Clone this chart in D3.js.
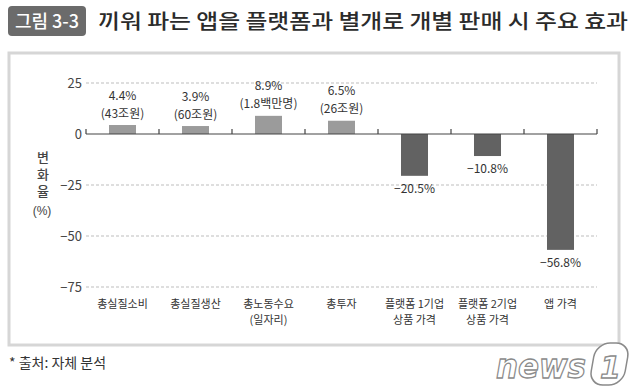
<!DOCTYPE html>
<html>
<head>
<meta charset="utf-8">
<script src="https://cdn.jsdelivr.net/npm/d3@7"></script>
<style>
  body { margin: 0; background: #fff; }
  text { font-family: "Noto Sans CJK KR", "Noto Sans", sans-serif; }
</style>
</head>
<body>
<div id="chart"></div>
<script>
// data
const categories = [
  ["총실질소비"],
  ["총실질생산"],
  ["총노동수요", "(일자리)"],
  ["총투자"],
  ["플랫폼 1기업", "상품 가격"],
  ["플랫폼 2기업", "상품 가격"],
  ["앱 가격"]
];
const values = [4.4, 3.9, 8.9, 6.5, -20.5, -10.8, -56.8];
const notes = ["(43조원)", "(60조원)", "(1.8백만명)", "(26조원)", "", "", ""];
const yTicks = [25, 0, -25, -50, -75];

const data = values.map((v, i) => ({ id: i, label: categories[i], value: v, note: notes[i] }));

const W = 640, H = 388;
const svg = d3.select('#chart').append('svg').attr('width', W).attr('height', H);

// title badge + title
svg.append('rect').attr('x', 8).attr('y', 6).attr('width', 78).attr('height', 30)
   .attr('rx', 4).attr('fill', '#6b6b6b');
svg.append('text').attr('x', 47).attr('y', 28).attr('text-anchor', 'middle')
   .style('font-size', '18px').style('font-weight', 500).style('fill', '#fff')
   .text('그림 3-3');
svg.append('text').attr('x', 98).attr('y', 29)
   .style('font-size', '20px').style('font-weight', 500).style('fill', '#2b2b2b')
   .attr('textLength', 530).attr('lengthAdjust', 'spacingAndGlyphs')
   .text('끼워 파는 앱을 플랫폼과 별개로 개별 판매 시 주요 효과');

// frame
svg.append('rect').attr('x', 9).attr('y', 53).attr('width', 610).attr('height', 292)
   .attr('fill', '#fff').attr('stroke', '#d6d6d6').attr('stroke-width', 3);

//scales
const x = d3.scaleBand().domain(data.map(d => d.id)).range([86, 597])
   .paddingInner(0.63).paddingOuter(0.315);
const y = d3.scaleLinear().domain([-75, 25]).range([287, 83]);

const g = svg.append('g');

// gridlines
g.append('g').selectAll('line').data(yTicks.filter(t => t !== 0)).join('line')
   .attr('x1', 86).attr('x2', 597)
   .attr('y1', d => y(d)).attr('y2', d => y(d))
   .attr('stroke', '#bdbdbd').attr('stroke-dasharray', '3 2');

// y axis labels
g.append('g').attr('transform', 'translate(82,0)')
   .call(d3.axisLeft(y).tickValues(yTicks).tickSize(0).tickPadding(0).tickFormat(d3.format('d')))
   .call(a => a.select('.domain').remove())
   .call(a => a.selectAll('text').style('font-size', '13px').style('fill', '#444')
      .style('font-family', '"Noto Sans CJK KR", sans-serif')
      .text(d => d < 0 ? '−' + Math.abs(d) : d));

// y title: vertical word + unit below
g.append('text').attr('x', 43).attr('y', 151)
   .style('writing-mode', 'vertical-rl').style('text-orientation', 'upright')
   .style('letter-spacing', '4px')
   .style('font-size', '13px').style('font-weight', 500).style('fill', '#444')
   .text('변화율');
g.append('text').attr('x', 42).attr('y', 215).attr('text-anchor', 'middle')
   .style('font-family', '"Liberation Sans", sans-serif')
   .style('font-size', '12px').style('fill', '#444')
   .text('(%)');

// bars
g.append('g').selectAll('rect').data(data).join('rect')
   .attr('x', d => x(d.id)).attr('width', x.bandwidth())
   .attr('y', d => y(Math.max(0, d.value)))
   .attr('height', d => Math.abs(y(d.value) - y(0)))
   .attr('fill', d => d.value >= 0 ? '#9b9b9b' : '#626262');

// zero axis with ticks at band edges
const y0 = y(0);
g.append('line').attr('x1', 86).attr('x2', 597).attr('y1', y0).attr('y2', y0)
   .attr('stroke', '#444').attr('stroke-width', 1.2);
const edges = d3.range(data.length + 1).map(i => x.range()[0] + i * x.step());
g.append('g').selectAll('line').data(edges).join('line')
   .attr('x1', d => d).attr('x2', d => d).attr('y1', y0).attr('y2', y0 - 5)
   .attr('stroke', '#444').attr('stroke-width', 1.2);

// value labels
const cx = d => x(d.id) + x.bandwidth() / 2;
const fmt = v => v < 0 ? '−' + Math.abs(v).toFixed(1) + '%' : v.toFixed(1) + '%';
g.append('g').selectAll('text').data(data).join('text')
   .attr('x', cx)
   .attr('y', d => d.value >= 0 ? y(d.value) - 25.5 : y(d.value) + 17)
   .attr('text-anchor', 'middle').style('font-size', '12px').style('fill', '#333')
   .text(d => fmt(d.value));
g.append('g').selectAll('text').data(data.filter(d => d.note)).join('text')
   .attr('x', cx).attr('y', d => y(d.value) - 7.5)
   .attr('text-anchor', 'middle').style('font-size', '12px').style('fill', '#333')
   .text(d => d.note);

// category labels, one text per line
const catLines = data.flatMap(d => d.label.map((l, i) => ({ l, i, x: cx(d) })));
g.append('g').selectAll('text').data(catLines).join('text')
   .attr('x', d => d.x).attr('y', d => 308 + d.i * 16)
   .attr('text-anchor', 'middle').style('font-size', '11px').style('fill', '#333')
   .text(d => d.l);

// footnote
svg.append('text').attr('x', 9).attr('y', 368)
   .style('font-size', '14px').style('fill', '#333')
   .text('* 출처: 자체 분석');

// logo
const logo = svg.append('g').attr('transform', 'translate(496,378)');
logo.append('text').attr('x', 0).attr('y', 0)
   .style('font-family', '"DejaVu Sans", sans-serif')
   .style('font-size', '34px').style('font-weight', 'bold').style('font-style', 'italic')
   .style('fill', '#fff').style('stroke', '#8a8a8a').style('stroke-width', 1.3)
   .attr('textLength', 90).attr('lengthAdjust', 'spacingAndGlyphs')
   .text('news');
logo.append('rect').attr('x', 94).attr('y', -35).attr('width', 34).attr('height', 42)
   .attr('rx', 14).attr('fill', '#fff').attr('stroke', '#8a8a8a').attr('stroke-width', 1.5)
   .attr('transform', 'skewX(-10)');
logo.append('text').attr('x', 104).attr('y', 0)
   .style('font-family', '"DejaVu Sans", sans-serif')
   .style('font-size', '30px').style('font-weight', 'bold').style('font-style', 'italic')
   .style('fill', '#fff').style('stroke', '#8a8a8a').style('stroke-width', 1.3)
   .text('1');
</script>
</body>
</html>
